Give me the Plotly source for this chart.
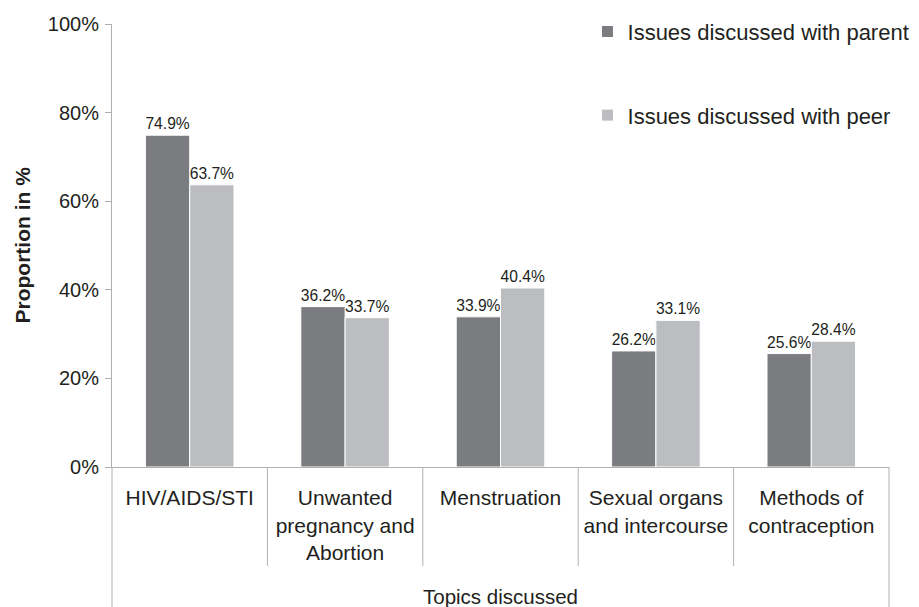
import plotly.graph_objects as go

categories = ["HIV/AIDS/STI", "Unwanted<br>pregnancy and<br>Abortion", "Menstruation",
              "Sexual organs<br>and intercourse", "Methods of<br>contraception"]
parent = [74.9, 36.2, 33.9, 26.2, 25.6]
peer = [63.7, 33.7, 40.4, 33.1, 28.4]
series_names = ["Issues discussed with parent", "Issues discussed with peer"]
y_ticks = [0, 20, 40, 60, 80, 100]
y_tick_labels = ["0%", "20%", "40%", "60%", "80%", "100%"]

FONT = "Liberation Sans, Arial, Helvetica, sans-serif"
TXT = "#231f20"
AX = "#b0b0b0"

fig = go.Figure()
for name, vals, col, grp in [(series_names[0], parent, "#7b7c80", "a"),
                             (series_names[1], peer, "#bcbdc1", "b")]:
    fig.add_trace(go.Bar(
        x=categories, y=vals, name=name, legendgroup=grp,
        marker=dict(color=col, line=dict(color="white", width=1)),
        text=[f"{v:.1f}%" for v in vals], textposition="outside",
        textfont=dict(size=16, color=TXT, family=FONT), cliponaxis=False,
    ))

H = 443.0
W = 777.0
shapes = []
for i in range(1, len(categories)):
    shapes.append(dict(type="line", xref="x", yref="paper", x0=i - 0.5, x1=i - 0.5,
                       y0=0, y1=-99 / H, line=dict(color=AX, width=1)))
for xp in (0, 1):
    shapes.append(dict(type="line", xref="paper", yref="paper", x0=xp, x1=xp,
                       y0=0, y1=-140 / H, line=dict(color=AX, width=1)))

# page body has an 8px default margin, so the figure is sized to 911x599
fig.update_layout(
    width=911, height=599,
    margin=dict(l=104, r=30, t=16, b=140, autoexpand=False),
    paper_bgcolor="white", plot_bgcolor="white",
    font=dict(family=FONT, color=TXT),
    barmode="group", bargap=0.43, bargroupgap=0,
    showlegend=True,
    legend=dict(x=0.612, y=1.03, xanchor="left", yanchor="top",
                font=dict(size=22, color=TXT), tracegroupgap=52,
                itemwidth=30, bgcolor="rgba(0,0,0,0)"),
    shapes=shapes,
    annotations=[
        dict(text="Topics discussed", xref="paper", yref="paper", x=0.5, y=-129 / H,
             xanchor="center", yanchor="middle", showarrow=False,
             font=dict(size=20.5, color=TXT)),
        dict(text="<b>Proportion in %</b>", xref="paper", yref="paper",
             x=-90 / W, y=0.5, xanchor="center", yanchor="middle", textangle=-90,
             showarrow=False, font=dict(size=21, color=TXT)),
    ],
)
fig.update_xaxes(showline=True, linecolor=AX, linewidth=1, ticks="", showgrid=False,
                 tickfont=dict(size=21, color=TXT), ticklabelstandoff=12)
fig.update_yaxes(range=[0, 100], tickmode="array", tickvals=y_ticks, ticktext=y_tick_labels,
                 showline=True, linecolor=AX, linewidth=1, ticks="outside", ticklen=6,
                 tickcolor=AX, showgrid=False, zeroline=False,
                 tickfont=dict(size=20, color=TXT), ticklabelstandoff=2)

fig.write_html("out.html")
